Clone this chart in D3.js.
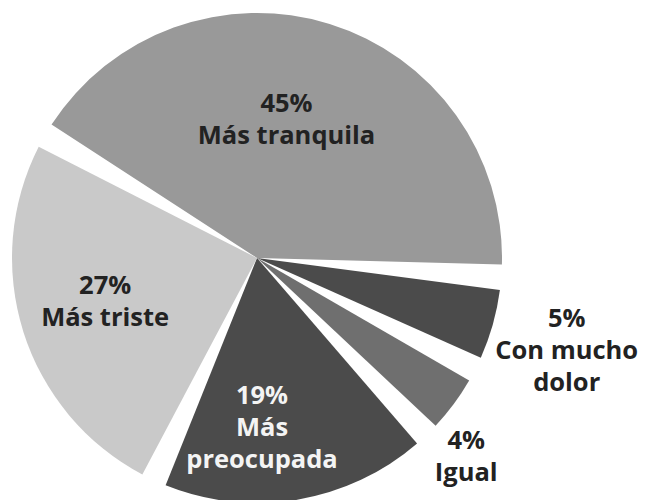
<!DOCTYPE html>
<html><head><meta charset="utf-8">
<script src="https://cdn.jsdelivr.net/npm/d3@7"></script>
<style>html,body{margin:0;padding:0;background:#fff;} svg{display:block}</style>
</head><body>
<svg id="chart" width="646" height="500"></svg>
<script>
// ---- data ----
const categories = ["Más tranquila", "Con mucho dolor", "Igual", "Más preocupada", "Más triste"];
const values = [45, 5, 4, 19, 27];
const labelLines = [["Más tranquila"], ["Con mucho", "dolor"], ["Igual"], ["Más", "preocupada"], ["Más triste"]];

// ---- styles / layout ----
const fills = ["#999999", "#4b4b4b", "#6f6f6f", "#4b4b4b", "#c9c9c9"];
const textFills = ["#222222", "#222222", "#222222", "#f4f4f4", "#222222"];
// label anchor (angle in degrees clockwise from 12 o'clock, distance from centre)
const labelPolar = [[12, 142], [106.5, 323], [133.4, 288], [178.3, 169], [254, 158]];

const W = 646, H = 500;
const cx = 257, cy = 258, R = 245;
const deg = Math.PI / 180;

const svg = d3.select("#chart");
const g = svg.append("g").attr("transform", `translate(${cx},${cy})`);

const start = 300 * deg;
const pie = d3.pie().sort(null).value(d => d.value)
  .padAngle(6 * deg).startAngle(start).endAngle(start + 2 * Math.PI);
const arc = d3.arc().innerRadius(0).outerRadius(R);

const data = categories.map((c, i) => ({ category: c, value: values[i], i }));
const arcs = pie(data);

g.selectAll("path.slice").data(arcs).join("path")
  .attr("class", "slice")
  .attr("d", arc)
  .attr("fill", d => fills[d.data.i]);

const lh = 32;
g.selectAll("text.lbl").data(arcs).join("text")
  .attr("class", "lbl")
  .attr("text-anchor", "middle")
  .attr("font-family", "'Open Sans', Lato, sans-serif")
  .attr("font-weight", 700)
  .attr("font-size", 25.5)
  .attr("fill", d => textFills[d.data.i])
  .each(function (d) {
    const i = d.data.i;
    const [a, r] = labelPolar[i];
    const x = r * Math.sin(a * deg), y = -r * Math.cos(a * deg);
    const lines = [d3.format(".0f")(d.data.value) + "%", ...labelLines[i]];
    const y0 = y - (lines.length - 1) * lh / 2;
    d3.select(this).selectAll("tspan").data(lines).join("tspan")
      .attr("x", x)
      .attr("y", (t, k) => y0 + k * lh)
      .attr("dy", "0.35em")
      .text(t => t);
  });
</script>
</body></html>
